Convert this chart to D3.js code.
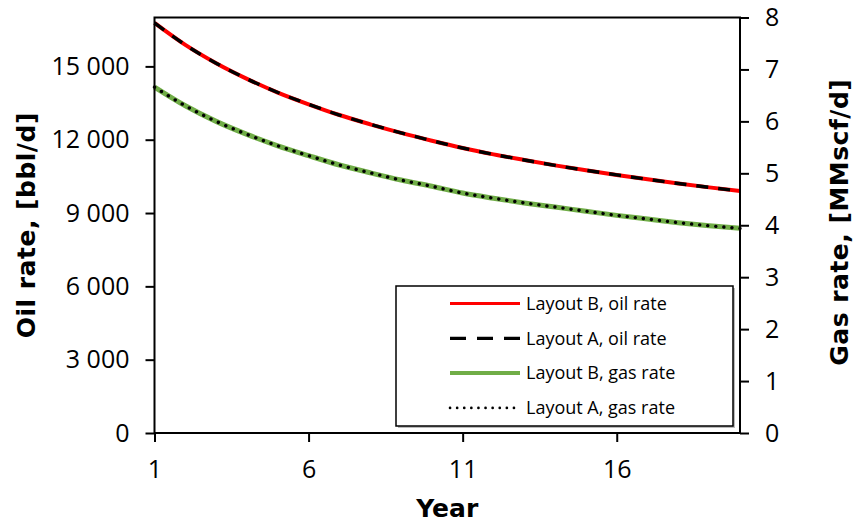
<!DOCTYPE html>
<html>
<head>
<meta charset="utf-8">
<script src="https://cdn.jsdelivr.net/npm/d3@7"></script>
<style>
  body { margin: 0; background: #fff; }
  text { font-family: "Open Sans", sans-serif; }
</style>
</head>
<body>
<div id="chart-area"></div>
<script>
const W = 856
const H = 524
const MARGIN = { LEFT: 154.5, RIGHT: 116, TOP: 17.5, BOTTOM: 91 }

// values
const years = [1, 2, 3, 4, 5, 6, 7, 8, 9, 10, 11, 12, 13, 14, 15, 16, 17, 18, 19, 20]
const oilB = [16780, 15880, 15130, 14490, 13930, 13450, 13010, 12630, 12280, 11960,
  11660, 11400, 11170, 10950, 10750, 10560, 10380, 10210, 10050, 9900]
const oilA = [16780, 15880, 15130, 14490, 13930, 13450, 13010, 12630, 12280, 11960,
  11660, 11400, 11170, 10950, 10750, 10560, 10380, 10210, 10050, 9900]
const gasB = [6.66, 6.30, 6.00, 5.75, 5.53, 5.34, 5.16, 5.01, 4.87, 4.75,
  4.62, 4.52, 4.43, 4.35, 4.27, 4.19, 4.12, 4.05, 3.99, 3.94]
const gasA = [6.66, 6.30, 6.00, 5.75, 5.53, 5.34, 5.16, 5.01, 4.87, 4.75,
  4.62, 4.52, 4.43, 4.35, 4.27, 4.19, 4.12, 4.05, 3.99, 3.94]

const xTicks = [1, 6, 11, 16]
const oilTicks = [0, 3000, 6000, 9000, 12000, 15000]
const gasTicks = [0, 1, 2, 3, 4, 5, 6, 7, 8]
const legendLabels = ["Layout B, oil rate", "Layout A, oil rate", "Layout B, gas rate", "Layout A, gas rate"]

const x = d3.scaleLinear().domain([1, 20]).range([MARGIN.LEFT, W - MARGIN.RIGHT])
const y1 = d3.scaleLinear().domain([0, 17000]).range([H - MARGIN.BOTTOM, MARGIN.TOP])
const y2 = d3.scaleLinear().domain([0, 8]).range([H - MARGIN.BOTTOM, MARGIN.TOP])

const fmt = d3.formatLocale({ decimal: ".", thousands: " ", grouping: [3], currency: ["", ""] }).format(",")

const series = [
  { values: oilB, y: y1, stroke: "#ff0000", width: 4, dash: null, cap: "butt" },
  { values: oilA, y: y1, stroke: "#000", width: 3.4, dash: "12,10", cap: "butt" },
  { values: gasB, y: y2, stroke: "#70ad47", width: 5, dash: null, cap: "butt" },
  { values: gasA, y: y2, stroke: "#000", width: 3.4, dash: "0.1,8", cap: "round" }
]

const svg = d3.select("#chart-area").append("svg")
  .attr("width", W)
  .attr("height", H)

// lines
series.forEach(s => {
  const line = d3.line()
    .x((d, i) => x(years[i]))
    .y(d => s.y(d))
    .curve(d3.curveMonotoneX)
  svg.append("path")
    .attr("fill", "none")
    .attr("stroke", s.stroke)
    .attr("stroke-width", s.width)
    .attr("stroke-dasharray", s.dash)
    .attr("stroke-linecap", s.cap)
    .attr("d", line(s.values))
})

// frame
svg.append("rect")
  .attr("x", MARGIN.LEFT)
  .attr("y", MARGIN.TOP)
  .attr("width", W - MARGIN.RIGHT - MARGIN.LEFT)
  .attr("height", H - MARGIN.BOTTOM - MARGIN.TOP)
  .attr("fill", "none")
  .attr("stroke", "#000")
  .attr("stroke-width", 2)

const styleAxis = g => {
  g.select(".domain").remove()
  g.selectAll(".tick line").attr("stroke", "#000").attr("stroke-width", 2)
  g.selectAll(".tick text").attr("fill", "#000")
    .style("font-family", "'Open Sans', sans-serif").style("font-size", "25px")
}

svg.append("g")
  .attr("transform", `translate(0,${H - MARGIN.BOTTOM})`)
  .call(d3.axisBottom(x).tickValues(xTicks).tickSize(9).tickPadding(18))
  .call(styleAxis)

svg.append("g")
  .attr("transform", `translate(${MARGIN.LEFT},0)`)
  .call(d3.axisLeft(y1).tickValues(oilTicks).tickFormat(fmt).tickSize(9).tickPadding(16))
  .call(styleAxis)

svg.append("g")
  .attr("transform", `translate(${W - MARGIN.RIGHT},0)`)
  .call(d3.axisRight(y2).tickValues(gasTicks).tickSize(9).tickPadding(16))
  .call(styleAxis)

// axis titles
const titleFont = g => g
  .attr("fill", "#000")
  .style("font-family", "'DejaVu Sans', Verdana, sans-serif")
  .style("font-weight", "bold")
  .style("font-size", "25px")

const midY = (MARGIN.TOP + H - MARGIN.BOTTOM) / 2

svg.append("text")
  .attr("transform", `translate(35,${midY}) rotate(-90)`)
  .attr("text-anchor", "middle")
  .style("letter-spacing", "0.5px")
  .call(titleFont)
  .text("Oil rate, [bbl/d]")

svg.append("text")
  .attr("transform", `translate(848,${midY - 3}) rotate(-90)`)
  .attr("text-anchor", "middle")
  .style("letter-spacing", "0.5px")
  .call(titleFont)
  .text("Gas rate, [MMscf/d]")

svg.append("text")
  .attr("x", (MARGIN.LEFT + W - MARGIN.RIGHT) / 2)
  .attr("y", 517)
  .attr("text-anchor", "middle")
  .call(titleFont)
  .text("Year")

// legend
const legend = svg.append("g").attr("transform", "translate(396,286)")
legend.append("rect")
  .attr("x", 2).attr("y", 2)
  .attr("width", 337).attr("height", 140)
  .attr("fill", "#bbb")
legend.append("rect")
  .attr("width", 337).attr("height", 140)
  .attr("fill", "#fff")
  .attr("stroke", "#000")
  .attr("stroke-width", 1.5)

const rows = legend.selectAll("g.row")
  .data(series)
  .join("g")
    .attr("class", "row")
    .attr("transform", (d, i) => `translate(0,${17.5 + i * 34.8})`)

rows.append("line")
  .attr("x1", 54).attr("x2", 124)
  .attr("stroke", d => d.stroke)
  .attr("stroke-width", (d, i) => i === 2 ? 4 : (i === 3 ? 2.6 : 3.2))
  .attr("stroke-dasharray", (d, i) => i === 1 ? "16,11" : (i === 3 ? "0.1,7" : null))
  .attr("stroke-linecap", d => d.cap)

rows.append("text")
  .attr("x", 130)
  .attr("dy", "0.35em")
  .attr("fill", "#000")
  .style("font-size", "18px")
  .text((d, i) => legendLabels[i])
</script>
</body>
</html>
